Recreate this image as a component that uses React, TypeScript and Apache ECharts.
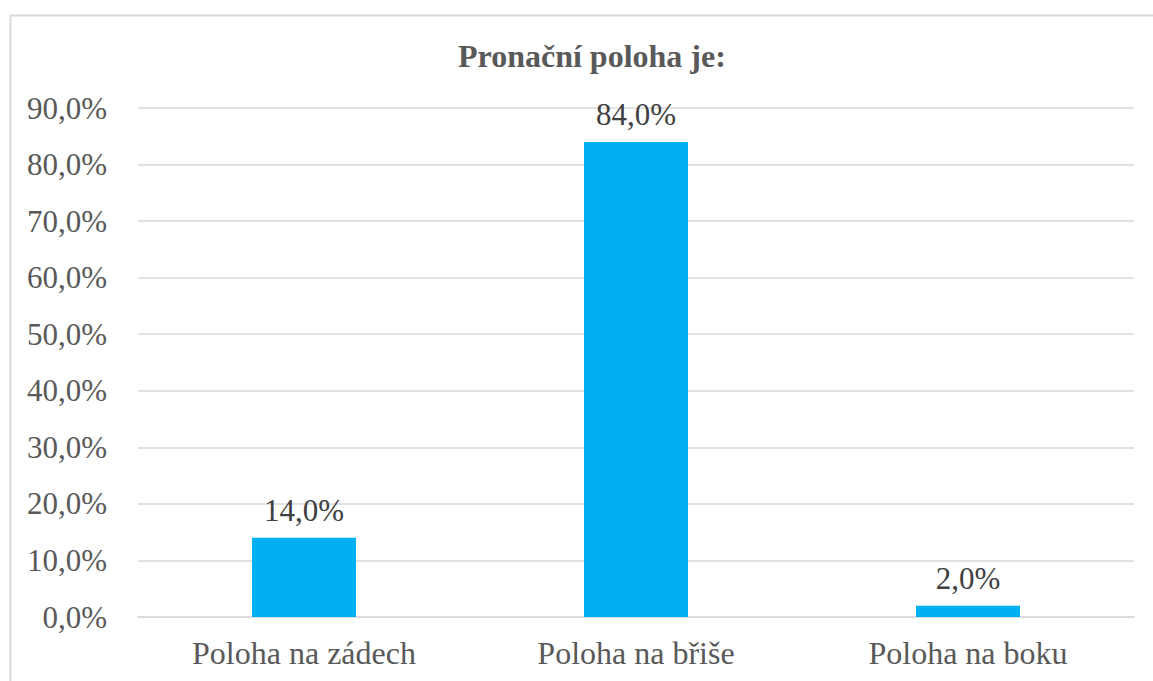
import React, { useEffect, useRef } from "react";
import * as echarts from "echarts";

const categories = ["Poloha na zádech", "Poloha na břiše", "Poloha na boku"];
const values = [14.0, 84.0, 2.0];
const titleText = "Pronační poloha je:";

const fmt = (v: number) => v.toFixed(1).replace(".", ",") + "%";

export default function App() {
  const ref = useRef<HTMLDivElement>(null);
  useEffect(() => {
    if (!ref.current) return;
    const chart = echarts.init(ref.current, undefined, { renderer: "svg" });
    const font = "'Liberation Serif', 'Times New Roman', serif";
    chart.setOption({
      animation: false,
      backgroundColor: "#ffffff",
      textStyle: { fontFamily: font },
      title: {
        text: titleText,
        left: 453,
        top: 35,
        textStyle: { fontFamily: font, fontSize: 32, fontWeight: "bold", color: "#595959", lineHeight: 32 },
      },
      graphic: [
        {
          type: "rect",
          shape: { x: 10.5, y: 15.5, width: 1160, height: 700 },
          style: { fill: "none", stroke: "#D9D9D9", lineWidth: 2 },
          silent: true,
        },
      ],
      grid: { left: 138, right: 19, top: 108, bottom: 64, containLabel: false },
      xAxis: {
        type: "category",
        data: categories,
        axisLine: { show: true, lineStyle: { color: "#D9D9D9", width: 1.5 } },
        axisTick: { show: false },
        axisLabel: { fontFamily: font, fontSize: 32, lineHeight: 32, color: "#595959", margin: 20 },
      },
      yAxis: {
        type: "value",
        min: 0,
        max: 90,
        interval: 10,
        axisLine: { show: false },
        axisTick: { show: false },
        splitLine: { lineStyle: { color: "#D9D9D9", width: 1.5 } },
        axisLabel: {
          fontFamily: font,
          fontSize: 31,
          color: "#595959",
          margin: 31,
          formatter: (v: number) => fmt(v),
        },
      },
      series: [
        {
          type: "bar",
          data: values,
          barWidth: 104,
          itemStyle: { color: "#00B0F0" },
          label: {
            show: true,
            position: "top",
            distance: 12,
            fontFamily: font,
            fontSize: 31,
            lineHeight: 31,
            color: "#404040",
            formatter: (p: any) => fmt(p.value),
          },
        },
      ],
    });
    return () => chart.dispose();
  }, []);
  return (
    <div
      ref={ref}
      style={{ position: "absolute", left: 0, top: 0, width: 1153, height: 681 }}
    />
  );
}
